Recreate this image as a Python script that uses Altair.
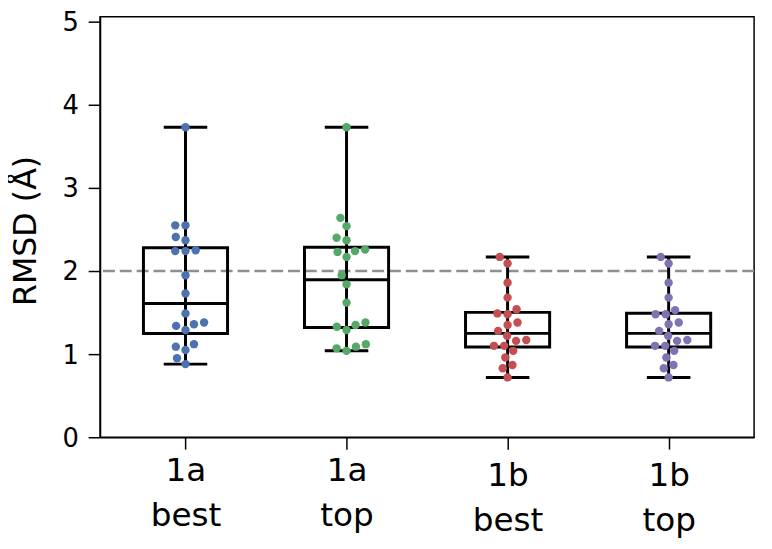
import json
import math
import pandas as pd
import altair as alt

# ---- data ----
CATEGORIES = ["1a best", "1a top", "1b best", "1b top"]
COLORS = ["#4C72B0", "#55A868", "#C44E52", "#8172B3"]

RMSD_1A_BEST = [3.73, 2.55, 2.55, 2.41, 2.37, 2.24, 2.24, 2.25, 1.95, 1.73,
                1.49, 1.38, 1.36, 1.34, 1.29, 1.12, 1.09, 1.05, 0.95, 0.88]
RMSD_1A_TOP = [3.73, 2.64, 2.54, 2.40, 2.37, 2.26, 2.24, 2.23, 2.17, 1.95,
               1.84, 1.62, 1.38, 1.35, 1.33, 1.29, 1.12, 1.09, 1.07, 1.04]
RMSD_1B_BEST = [2.17, 2.09, 1.86, 1.68, 1.54, 1.49, 1.48, 1.38, 1.35, 1.28,
                1.22, 1.17, 1.16, 1.10, 1.10, 1.04, 0.96, 0.87, 0.83, 0.72]
RMSD_1B_TOP = [2.17, 2.09, 1.86, 1.68, 1.53, 1.48, 1.48, 1.38, 1.36, 1.28,
               1.22, 1.17, 1.16, 1.10, 1.10, 1.04, 0.96, 0.87, 0.83, 0.72]
THRESHOLD = [2.0]
Y_TICKS = [0, 1, 2, 3, 4, 5]

SERIES = [RMSD_1A_BEST, RMSD_1A_TOP, RMSD_1B_BEST, RMSD_1B_TOP]

# ---- layout ----
W, H = 661, 425
Y_MAX = 5.06
PX_PER_Y = H / Y_MAX
PX_PER_X = W / 4.0
DOT = 10.5  # swarm spacing in px
FONT = "DejaVu Sans"


def swarm_offsets(values):
    """Simple beeswarm (seaborn-like): returns x offsets in px."""
    order = sorted(range(len(values)), key=lambda i: values[i])
    placed = []
    offs = [0.0] * len(values)
    for i in order:
        y = values[i] * PX_PER_Y
        neigh = [(px, py) for px, py in placed if abs(py - y) < DOT]
        cands = [0.0]
        for nx, ny in neigh:
            dx = math.sqrt(max(DOT ** 2 - (y - ny) ** 2, 0.0))
            cands += [nx - dx, nx + dx]
        cands = sorted(cands, key=lambda c: abs(c))
        chosen = cands[-1]
        for c in cands:
            if all((c - nx) ** 2 + (y - ny) ** 2 >= DOT ** 2 - 1e-6 for nx, ny in neigh):
                chosen = c
                break
        offs[i] = chosen
        placed.append((chosen, y))
    return offs


rows = []
for gi, (cat, vals) in enumerate(zip(CATEGORIES, SERIES)):
    offs = swarm_offsets(vals)
    for v, o in zip(vals, offs):
        rows.append({"group": cat, "pos": gi, "value": v, "xp": gi + o / PX_PER_X})
df = pd.DataFrame(rows)

label_expr = json.dumps([c.split(" ") for c in CATEGORIES]) + "[datum.value]"

x_scale = alt.Scale(domain=[-0.5, 3.5], nice=False, zero=False)
y_scale = alt.Scale(domain=[0, Y_MAX], nice=False, zero=False)

x_axis = alt.Axis(
    values=[0, 1, 2, 3], labelExpr=label_expr, title=None,
    labelFont=FONT, labelColor="black",
    labelFontSize=33, labelLineHeight=45, labelBaseline="top",
    labelPadding={"condition": {"test": "datum.value >= 2", "value": 11}, "value": 6},
    tickSize=12, tickColor="black", tickWidth=1.5,
    domainColor="black", domainWidth=1.5,
    grid=False, labelAngle=0,
)
y_axis = alt.Axis(
    values=Y_TICKS, title="RMSD (Å)", titleFont=FONT, titleColor="black",
    titleFontSize=32, titleFontWeight="normal",
    titleAngle=270, titleBaseline="alphabetic", titleX=-65, titleY=216,
    titleAlign="center",
    labelFont=FONT, labelColor="black",
    labelFontSize=26, labelPadding=10, labelOffset=1, tickSize=12,
    tickColor="black", tickWidth=1.5, domainColor="black", domainWidth=1.5,
    grid=False,
)

base = alt.Chart(df)

stats = base.transform_aggregate(
    q1="q1(value)", q3="q3(value)", med="median(value)",
    lo="min(value)", hi="max(value)", groupby=["pos"],
)

thr = alt.Chart(pd.DataFrame({"y": THRESHOLD})).mark_rule(
    color="#8f8f8f", strokeWidth=2.5, strokeDash=[12, 5]
).encode(y=alt.Y("y:Q", scale=y_scale, axis=y_axis))

whisker = stats.mark_rule(color="black", strokeWidth=3).encode(
    x=alt.X("pos:Q", scale=x_scale, axis=x_axis),
    y=alt.Y("lo:Q", scale=y_scale, axis=y_axis),
    y2="hi:Q",
)

box = stats.mark_bar(size=85, fillOpacity=0, stroke="black", strokeWidth=3).encode(
    x=alt.X("pos:Q", scale=x_scale, axis=x_axis),
    y=alt.Y("q1:Q", scale=y_scale, axis=y_axis),
    y2="q3:Q",
)

median = stats.mark_tick(orient="horizontal", size=85, thickness=3,
                         color="black", opacity=1).encode(
    x=alt.X("pos:Q", scale=x_scale, axis=x_axis),
    y=alt.Y("med:Q", scale=y_scale, axis=y_axis),
)

cap_lo = stats.mark_tick(orient="horizontal", size=44, thickness=3,
                         color="black", opacity=1).encode(
    x=alt.X("pos:Q", scale=x_scale, axis=x_axis),
    y=alt.Y("lo:Q", scale=y_scale, axis=y_axis),
)
cap_hi = stats.mark_tick(orient="horizontal", size=44, thickness=3,
                         color="black", opacity=1).encode(
    x=alt.X("pos:Q", scale=x_scale, axis=x_axis),
    y=alt.Y("hi:Q", scale=y_scale, axis=y_axis),
)

points = base.mark_circle(size=72, opacity=1).encode(
    x=alt.X("xp:Q", scale=x_scale, axis=x_axis),
    y=alt.Y("value:Q", scale=y_scale, axis=y_axis),
    color=alt.Color("group:N", scale=alt.Scale(domain=CATEGORIES, range=COLORS), legend=None),
)

chart = alt.layer(thr, whisker, box, median, cap_lo, cap_hi, points).properties(
    width=W, height=H,
    autosize=alt.AutoSizeParams(type="none"),
    padding={"left": 93, "top": 6, "right": 10, "bottom": 99},
    background="white",
).configure(
    font=FONT,
).configure_view(
    stroke="black", strokeWidth=1.5
).configure_axis(
    labelFont=FONT, titleFont=FONT,
    labelColor="black", titleColor="black",
    domainColor="black", domainWidth=1.5,
    tickColor="black", tickWidth=1.5,
)

chart.save("out.html", embed_options={"renderer": "svg", "actions": False})
